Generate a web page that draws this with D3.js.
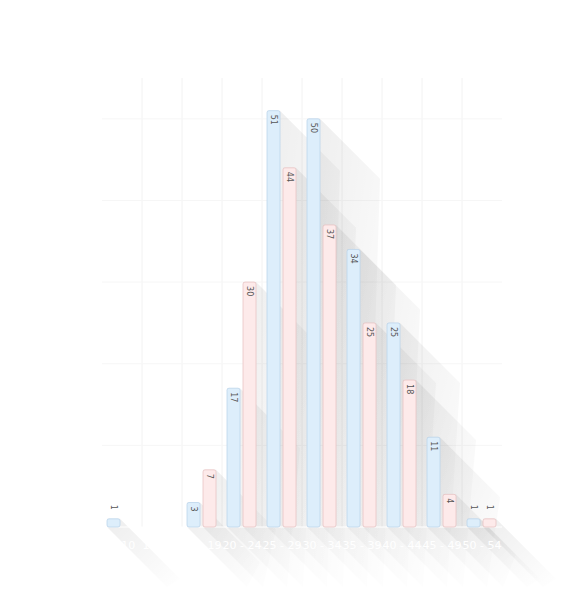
<!DOCTYPE html><html><head><meta charset="utf-8"><script src="https://cdn.jsdelivr.net/npm/d3@7"></script>
<style>body{margin:0;background:#fff}</style></head><body><svg id="c" width="570" height="601"></svg>
<script>
const categories=["< 10","10 - 14","15 - 19","20 - 24","25 - 29","30 - 34","35 - 39","40 - 44","45 - 49","50 - 54"];
const seriesA=[1,null,3,17,51,50,34,25,11,1];
const seriesB=[null,null,7,30,44,37,25,18,4,1];
const svg=d3.select("#c");
const x=d3.scaleBand().domain(categories).range([102,502]);
const y=d3.scaleLinear().domain([0,55]).range([527,78]);
const defs=svg.append("defs");
const g=defs.append("linearGradient").attr("id","sh").attr("x1",0).attr("y1",0).attr("x2",1).attr("y2",1);
g.append("stop").attr("offset",0).attr("stop-color","#000").attr("stop-opacity",0.07);
g.append("stop").attr("offset",1).attr("stop-color","#000").attr("stop-opacity",0);
// grid
svg.append("g").selectAll("line").data(categories.slice(1)).join("line")
 .attr("x1",d=>x(d)).attr("x2",d=>x(d)).attr("y1",78).attr("y2",527).attr("stroke","#f2f2f2");
svg.append("g").selectAll("line").data([10,20,30,40,50]).join("line")
 .attr("x1",102).attr("x2",502).attr("y1",d=>y(d)).attr("y2",d=>y(d)).attr("stroke","#f6f6f6");
const bars=[];
categories.forEach((c,i)=>{
 if(seriesA[i]!=null)bars.push({c,v:seriesA[i],o:5,fill:"#ddeefb",st:"#bcd6ec"});
 if(seriesB[i]!=null)bars.push({c,v:seriesB[i],o:21,fill:"#fdeaea",st:"#e8c4c4"});
});
const W=13,L=60,base=y(0);
svg.append("g").selectAll("path").data(bars).join("path")
 .attr("d",d=>{const x0=x(d.c)+d.o,y0=y(d.v);return `M${x0},${y0}L${x0+W},${y0}L${x0+W+L},${y0+L}L${x0+L},${base+L}L${x0},${base}Z`})
 .attr("fill","url(#sh)");
svg.append("line").attr("x1",102).attr("x2",502).attr("y1",base).attr("y2",base).attr("stroke","#fff");
svg.append("g").selectAll("rect").data(bars).join("rect")
 .attr("x",d=>x(d.c)+d.o).attr("y",d=>y(d.v)).attr("width",W).attr("height",d=>base-y(d.v))
 .attr("rx",2).attr("fill",d=>d.fill).attr("stroke",d=>d.st).attr("stroke-width",0.8);
svg.append("g").selectAll("text").data(bars).join("text")
 .attr("transform",d=>{const cx=x(d.c)+d.o+W/2;const yy=d.v<2?y(d.v)-14:y(d.v)+4;return `translate(${cx},${yy}) rotate(90)`})
 .attr("dy","0.35em").attr("font-family","DejaVu Sans").attr("font-size",8).attr("fill","#555").text(d=>d.v);
svg.append("g").selectAll("text").data(categories).join("text")
 .attr("x",d=>x(d)+x.bandwidth()/2).attr("y",base+22).attr("text-anchor","middle")
 .attr("font-family","DejaVu Sans").attr("font-size",11).attr("fill","#fff").text(d=>d);
</script></body></html>
